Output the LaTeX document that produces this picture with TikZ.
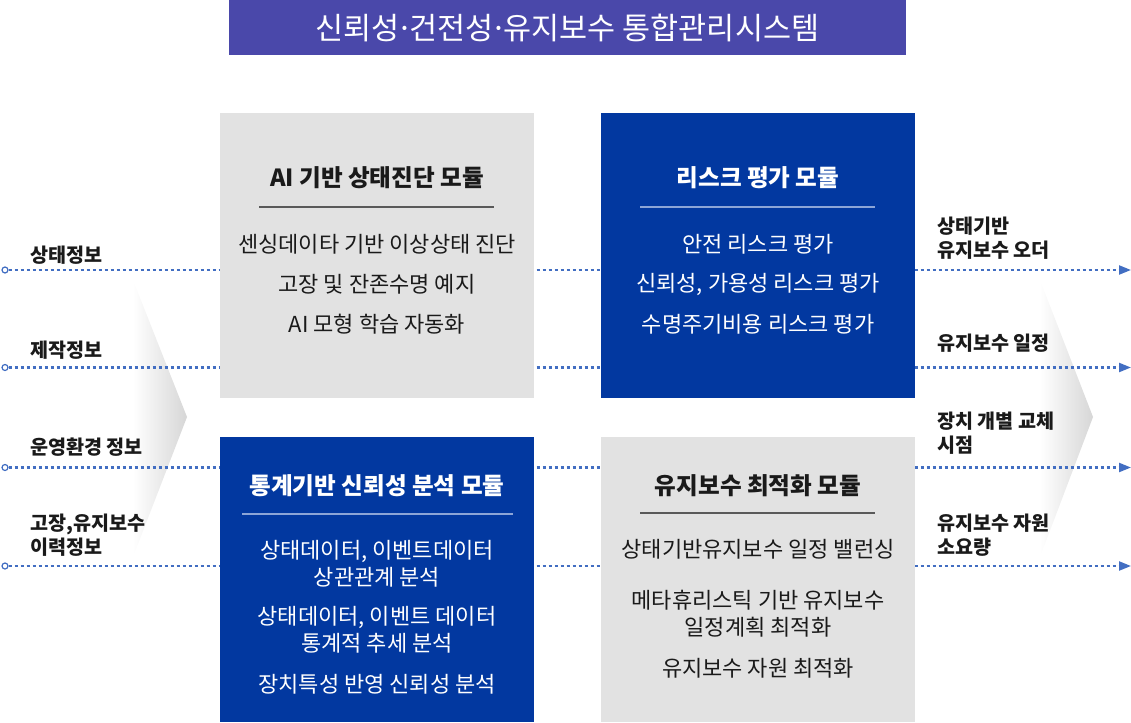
\documentclass[tikz,border=0pt]{standalone}
\usepackage{fontspec}
\setmainfont{Noto Sans CJK KR}
\usetikzlibrary{positioning,arrows.meta}

\definecolor{titleblue}{RGB}{74,72,170}
\definecolor{boxblue}{RGB}{2,56,160}
\definecolor{boxgray}{RGB}{226,226,226}
\definecolor{flowblue}{RGB}{66,110,194}
\definecolor{barlight}{RGB}{140,165,215}
\definecolor{ink}{RGB}{26,26,26}

\newcommand{\middot}{\makebox[0.32em]{·}}

\begin{document}
\begin{tikzpicture}[
  x=1pt, y=-1pt,
  font=\fontsize{22}{27}\selectfont,
  module/.style={minimum width=314pt, minimum height=285pt, inner sep=0pt, anchor=north west},
  graymod/.style={module, fill=boxgray},
  bluemod/.style={module, fill=boxblue},
  head/.style={inner sep=0pt, font=\fontsize{23.6}{27}\selectfont\bfseries},
  item/.style={align=center, inner sep=0pt},
  side/.style={anchor=west, align=left, inner sep=0pt, text=ink,
               font=\fontsize{19.6}{24}\selectfont\bfseries},
  src/.style={circle, draw=flowblue, line width=1.2pt, inner sep=0pt,
              minimum size=6pt, fill=white},
  flow/.style={draw=flowblue, line width=2.2pt, dash pattern=on 3.5pt off 2.5pt,
               -{Triangle[length=12pt,width=9pt,fill=flowblue]}},
  graybar/.style={draw=black!65, line width=1.4pt},
  bluebar/.style={draw=barlight, line width=1.8pt},
]
\useasboundingbox (0,0) rectangle (1131,722);

% background chevrons
\shade[left color=white, right color=black!16] (133,280) -- (187,417) -- (133,557) -- cycle;
\shade[left color=white, right color=black!16] (1040,280) -- (1093,417) -- (1040,557) -- cycle;

% dotted flows from inputs to outputs
\foreach \y [count=\i] in {270,367.5,467.5,566} {
  \node[src] (in\i) at (5,\y) {};
  \coordinate (out\i) at (1131,\y);
  \draw[flow] (in\i) -- (out\i);
}

% title
\node[fill=titleblue, text=white, minimum width=677pt, minimum height=55pt, inner sep=0pt,
      font=\fontsize{30.5}{31}\selectfont] (title) at (567.5,27.5)
  {신뢰성\middot 건전성\middot 유지보수 통합관리시스템};

% modules
\node[graymod] (diag) at (220,113) {};
\node[bluemod] (risk) at (601,113) {};
\node[bluemod] (stat) at (220,437) {};
\node[graymod] (opt)  at (601,437) {};

\node[head, text=ink] (diag-h) at (377,178) {AI 기반 상태진단 모듈};
\draw[graybar] (259,207) -- (494,207);
\node[item, text=ink] (diag-1) at (377,244) {센싱데이타 기반 이상상태 진단};
\node[item, text=ink] (diag-2) at (377,284) {고장 및 잔존수명 예지};
\node[item, text=ink] (diag-3) at (377,324) {AI 모형 학습 자동화};

\node[head, text=white] (risk-h) at (758,178) {리스크 평가 모듈};
\draw[bluebar] (640,207) -- (875,207);
\node[item, text=white] (risk-1) at (758,244) {안전 리스크 평가};
\node[item, text=white] (risk-2) at (758,284) {신뢰성, 가용성 리스크 평가};
\node[item, text=white] (risk-3) at (758,324) {수명주기비용 리스크 평가};

\node[head, text=white] (stat-h) at (377,486) {통계기반 신뢰성 분석 모듈};
\draw[bluebar] (242,514) -- (513,514);
\node[item, text=white] (stat-1) at (377,563.5) {상태데이터, 이벤트데이터\\상관관계 분석};
\node[item, text=white] (stat-2) at (377,630) {상태데이터, 이벤트 데이터\\통계적 추세 분석};
\node[item, text=white] (stat-3) at (377,684) {장치특성 반영 신뢰성 분석};

\node[head, text=ink] (opt-h) at (758,486) {유지보수 최적화 모듈};
\draw[graybar] (640,513) -- (875,513);
\node[item, text=ink] (opt-1) at (758,549) {상태기반유지보수 일정 밸런싱};
\node[item, text=ink] (opt-2) at (758,613.5) {메타휴리스틱 기반 유지보수\\일정계획 최적화};
\node[item, text=ink] (opt-3) at (758,668) {유지보수 자원 최적화};

% inputs
\node[side] (cond)  at (30,255)   {상태정보};
\node[side] (make)  at (30,350)   {제작정보};
\node[side] (env)   at (30,447)   {운영환경 정보};
\node[side] (hist)  at (30,535.5) {고장,유지보수\\이력정보};

% outputs
\node[side] (order) at (937,238)   {상태기반\\유지보수 오더};
\node[side] (sched) at (937,343)   {유지보수 일정};
\node[side] (repl)  at (937,433)   {장치 개별 교체\\시점};
\node[side] (res)   at (937,535)   {유지보수 자원\\소요량};
\end{tikzpicture}
\end{document}
